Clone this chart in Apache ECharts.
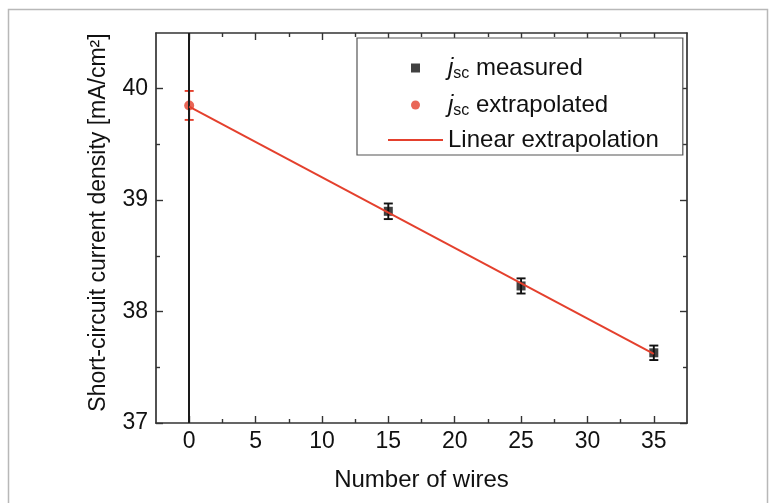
<!DOCTYPE html>
<html>
<head>
<meta charset="utf-8">
<script src="https://cdn.jsdelivr.net/npm/echarts@6/dist/echarts.min.js"></script>
<style>
html,body{margin:0;padding:0;background:#fff;}
#chart{width:776px;height:503px;}
</style>
</head>
<body>
<div id="chart"></div>
<script>
// ---- data ----
const measuredX = [15, 25, 35];
const measuredY = [38.90, 38.23, 37.63];
const measuredErr = [0.07, 0.068, 0.065];
const extrapX = [0];
const extrapY = [39.85];
const extrapErr = [0.13];
const fitX = [0, 35];
const fitY = [39.84, 37.62];
const xTicks = [0, 5, 10, 15, 20, 25, 30, 35];
const xMinorTicks = [2.5, 7.5, 12.5, 17.5, 22.5, 27.5, 32.5];
const yTicks = [37, 38, 39, 40];
const yMinorTicks = [37.5, 38.5, 39.5];
const seriesNames = ['jsc measured', 'jsc extrapolated', 'Linear extrapolation'];
const xName = 'Number of wires';
const yName = 'Short-circuit current density [mA/cm\u00B2]';

const FONT = '"Liberation Sans", Arial, sans-serif';
const AXIS_COLOR = '#333';
const RED = '#e4402d';

const chart = echarts.init(document.getElementById('chart'));

function errData(xs, ys, es) {
  return xs.map((x, i) => [x, ys[i] - es[i], ys[i] + es[i]]);
}
function errRender(color) {
  return function (params, api) {
    const x = api.value(0), lo = api.value(1), hi = api.value(2);
    const pHi = api.coord([x, hi]);
    const pLo = api.coord([x, lo]);
    const cap = 4.5;
    const st = { stroke: color, lineWidth: 1.9 };
    return {
      type: 'group',
      children: [
        { type: 'line', shape: { x1: pHi[0], y1: pHi[1], x2: pLo[0], y2: pLo[1] }, style: st },
        { type: 'line', shape: { x1: pHi[0] - cap, y1: pHi[1], x2: pHi[0] + cap, y2: pHi[1] }, style: st },
        { type: 'line', shape: { x1: pLo[0] - cap, y1: pLo[1], x2: pLo[0] + cap, y2: pLo[1] }, style: st }
      ]
    };
  };
}

function xAx(pos, ticks, len, withLabels, withLine) {
  return {
    type: 'value', position: pos, min: -2.5, max: 37.5,
    axisLine: { show: withLine, onZero: false, lineStyle: { color: AXIS_COLOR, width: 1.7 } },
    axisTick: { show: true, inside: true, length: len, customValues: ticks, lineStyle: { color: AXIS_COLOR, width: 1.4 } },
    axisLabel: withLabels ? { show: true, customValues: ticks, margin: 7, fontSize: 23, color: '#111', fontFamily: FONT } : { show: false },
    splitLine: { show: false }
  };
}
function yAx(pos, ticks, len, withLabels, withLine) {
  return {
    type: 'value', position: pos, min: 37, max: 40.5,
    axisLine: { show: withLine, onZero: false, lineStyle: { color: AXIS_COLOR, width: 1.7 } },
    axisTick: { show: true, inside: true, length: len, customValues: ticks, lineStyle: { color: AXIS_COLOR, width: 1.4 } },
    axisLabel: withLabels ? { show: true, customValues: ticks, margin: 8, fontSize: 23, color: '#111', fontFamily: FONT } : { show: false },
    splitLine: { show: false }
  };
}

const xMain = xAx('bottom', xTicks, 7, true, true);
xMain.name = xName;
xMain.nameLocation = 'middle';
xMain.nameGap = 45;
xMain.nameTextStyle = { fontSize: 24, color: '#111', fontFamily: FONT };

const yMain = yAx('left', yTicks, 7, true, true);
yMain.name = yName;
yMain.nameLocation = 'middle';
yMain.nameGap = 46;
yMain.nameTextStyle = { fontSize: 23, color: '#111', fontFamily: FONT, padding: [0, 0, 0, 11] };

const richText = {
  i: { fontStyle: 'italic', fontSize: 24, lineHeight: 30, color: '#111', fontFamily: FONT },
  sub: { fontSize: 16, lineHeight: 18, padding: [12, 0, 0, 0], color: '#111', fontFamily: FONT },
  t: { fontSize: 24, lineHeight: 30, color: '#111', fontFamily: FONT }
};

const option = {
  backgroundColor: '#fff',
  animation: false,
  textStyle: { fontFamily: FONT },
  graphic: [{
    type: 'rect', silent: true, z: -10,
    shape: { x: 8.5, y: 9.5, width: 759, height: 520 },
    style: { fill: 'none', stroke: '#b8b8b8', lineWidth: 1.5 }
  }],
  grid: { left: 156, right: 89, top: 33, bottom: 80, containLabel: false },
  xAxis: [
    xMain,
    xAx('bottom', xMinorTicks, 4, false, false),
    xAx('top', xTicks, 7, false, true),
    xAx('top', xMinorTicks, 4, false, false)
  ],
  yAxis: [
    yMain,
    yAx('left', yMinorTicks, 4, false, false),
    yAx('right', yTicks, 7, false, true),
    yAx('right', yMinorTicks, 4, false, false)
  ],
  legend: {
    orient: 'vertical', left: 357, top: 38,
    padding: [16, 24, 3, 30],
    itemWidth: 55, itemHeight: 9, itemGap: 9,
    borderColor: '#555', borderWidth: 1.2, backgroundColor: '#fff',
    selectedMode: false,
    data: [
      { name: seriesNames[0], icon: 'path://M0,0H10V10H0Z' },
      { name: seriesNames[1] },
      { name: seriesNames[2], itemStyle: { color: 'rgba(0,0,0,0)', borderWidth: 0 } }
    ],
    formatter: function (name) {
      if (name === seriesNames[0]) return '{i|j}{sub|sc}{t| measured}';
      if (name === seriesNames[1]) return '{i|j}{sub|sc}{t| extrapolated}';
      return '{t|' + name + '}';
    },
    textStyle: { fontSize: 24, color: '#111', fontFamily: FONT, rich: richText }
  },
  series: [
    {
      type: 'custom', name: 'err-measured', xAxisIndex: 0, yAxisIndex: 0, z: 2,
      renderItem: errRender('#111'),
      encode: { x: 0, y: [1, 2] },
      data: errData(measuredX, measuredY, measuredErr),
      silent: true
    },
    {
      type: 'custom', name: 'err-extrap', xAxisIndex: 0, yAxisIndex: 0, z: 2,
      renderItem: errRender(RED),
      encode: { x: 0, y: [1, 2] },
      data: errData(extrapX, extrapY, extrapErr),
      silent: true
    },
    {
      type: 'scatter', name: seriesNames[0], xAxisIndex: 0, yAxisIndex: 0, z: 3,
      symbol: 'rect', symbolSize: 9, symbolKeepAspect: true,
      itemStyle: { color: '#111' },
      data: measuredX.map((x, i) => [x, measuredY[i]]),
      markLine: {
        silent: true, symbol: ['none', 'none'], label: { show: false },
        lineStyle: { color: '#1a1a1a', width: 2, type: 'solid' },
        data: [{ xAxis: 0 }]
      }
    },
    {
      type: 'scatter', name: seriesNames[1], xAxisIndex: 0, yAxisIndex: 0, z: 4,
      symbol: 'circle', symbolSize: 10,
      itemStyle: { color: RED },
      data: extrapX.map((x, i) => [x, extrapY[i]])
    },
    {
      type: 'line', name: seriesNames[2], xAxisIndex: 0, yAxisIndex: 0, z: 5,
      symbol: 'none',
      lineStyle: { color: RED, width: 2 },
      itemStyle: { color: RED },
      data: fitX.map((x, i) => [x, fitY[i]])
    }
  ]
};
chart.setOption(option);
</script>
</body>
</html>
